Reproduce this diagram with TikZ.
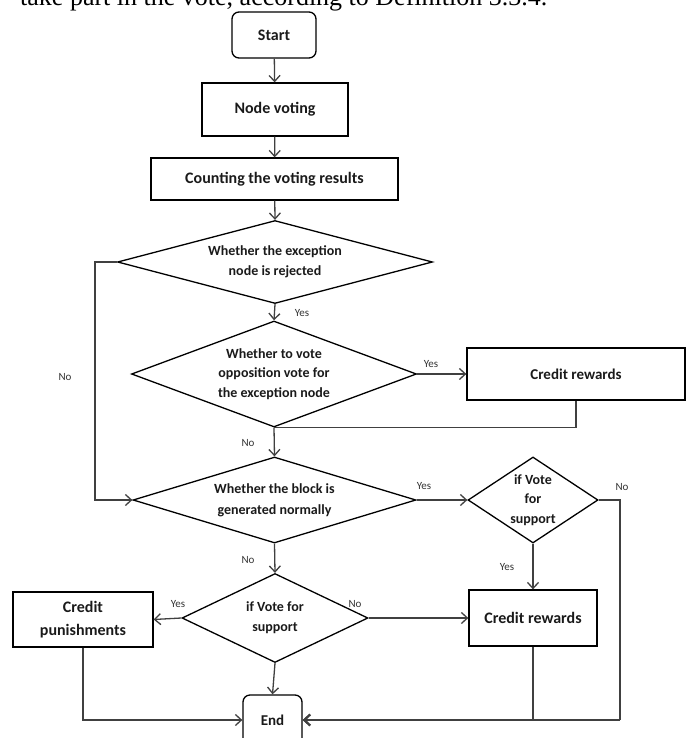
\documentclass[tikz,border=0pt]{standalone}
\usepackage{fontspec}
\setmainfont{Carlito}
\newfontfamily\bodyserif{Liberation Serif}
\usetikzlibrary{shapes.geometric,arrows.meta}

\definecolor{txt}{HTML}{1A1A1A}
\definecolor{linec}{HTML}{404040}
\definecolor{labc}{HTML}{333333}

\begin{document}
\begin{tikzpicture}[x=1pt,y=-1pt,
  box/.style={draw=black, line width=1.3pt, rectangle, inner sep=0pt, text=txt,
    font=\bfseries\fontsize{16}{20}\selectfont, align=center},
  term/.style={box, rounded corners=7pt},
  dia/.style={draw=black, line width=1.3pt, diamond, inner sep=0pt},
  dtext/.style={text=txt, font=\bfseries\fontsize{14}{20}\selectfont, align=center, inner sep=0pt},
  conn/.style={draw=linec, line width=1.3pt},
  arr/.style={conn, -{Straight Barb[length=6pt,width=11pt]}},
  lab/.style={text=labc, font=\fontsize{11}{13}\selectfont, inner sep=0pt}
]
\clip (0,0) rectangle (688,738);

% running text line above the chart
\node[anchor=base west, inner sep=0pt, text=black,
  font=\bodyserif\fontsize{26}{30}\selectfont] (caption) at (20,6)
  {take part in the vote, according to Definition 3.3.4.};

% main column
\node[term, minimum width=84pt, minimum height=46pt] (start) at (274,35) {Start};
\node[box, minimum width=146pt, minimum height=53pt] (vote) at (275,109.5) {Node voting};
\node[box, minimum width=247pt, minimum height=42pt] (count) at (274.5,179) {Counting the voting results};

\node[dia, minimum width=315pt, minimum height=83pt,
  label={[dtext]center:{Whether the exception\\node is rejected}}] (d1) at (275,262) {};
\node[dia, minimum width=285pt, minimum height=106pt,
  label={[dtext, font=\bfseries\fontsize{14}{19.5}\selectfont]center:{Whether to vote\\opposition vote for\\the exception node}}] (d2) at (274,374) {};
\node[box, minimum width=218pt, minimum height=52pt,
  font=\bfseries\fontsize{15}{20}\selectfont] (cr1) at (576,374) {Credit rewards};

\node[dia, minimum width=283pt, minimum height=86pt,
  label={[dtext, font=\bfseries\fontsize{14}{21}\selectfont]center:{Whether the block is\\generated normally}}] (d3) at (274.5,500) {};
\node[dia, minimum width=130pt, minimum height=86pt,
  label={[dtext, font=\bfseries\fontsize{14}{19.5}\selectfont]center:{if Vote\\for\\support}}] (d4) at (533,500) {};
\node[box, minimum width=128pt, minimum height=56pt] (cr2) at (533,618) {Credit rewards};

\node[dia, minimum width=186pt, minimum height=89pt,
  label={[dtext]center:{if Vote for\\support}}] (d5) at (275,618) {};
\node[box, minimum width=140pt, minimum height=55pt,
  font=\bfseries\fontsize{16}{23}\selectfont] (cp) at (83,619.5) {Credit\\punishments};

\node[term, minimum width=59pt, minimum height=50pt,
  font=\bfseries\fontsize{15}{20}\selectfont] (end) at (272.5,720) {End};

% connectors
\draw[arr] (start) -- (vote);
\draw[arr] (vote) -- (count);
\draw[arr] (count) -- (d1.north);
\draw[arr] (d1.south) -- (d2.north);
\draw[arr] (d2.east) -- (cr1.west);
\coordinate (join) at (d2.south);
\draw[conn] (cr1.south) |- (join);
\draw[arr] (join) -- (d3.north);
\draw[arr] (d1.west) -- ++(-22,0) |- (d3.west);
\draw[arr] (d3.east) -- (d4.west);
\draw[arr] (d4.south) -- (cr2.north);
\coordinate (rbend) at (620,720);
\draw[conn] (d4.east) -| (rbend);
\draw[arr] (cr2.south) |- (end.east);
\draw[arr, line width=2.2pt] (rbend) -- (end.east);
\draw[arr] (d3.south) -- (d5.north);
\draw[arr] (d5.west) -- (cp.east);
\draw[arr] (d5.east) -- (cr2.west);
\draw[arr] (d5.south) -- (end.north);
\draw[arr] (cp.south) |- (end.west);

% branch labels
\node[lab] (l1) at (302,313) {Yes};
\node[lab] (l2) at (431,364) {Yes};
\node[lab] (l3) at (248,443) {No};
\node[lab] (l4) at (65,377) {No};
\node[lab] (l5) at (424,486) {Yes};
\node[lab] (l6) at (622,487) {No};
\node[lab] (l7) at (507,567) {Yes};
\node[lab] (l8) at (248,560) {No};
\node[lab] (l9) at (178,604) {Yes};
\node[lab] (l10) at (355,604) {No};
\end{tikzpicture}
\end{document}
